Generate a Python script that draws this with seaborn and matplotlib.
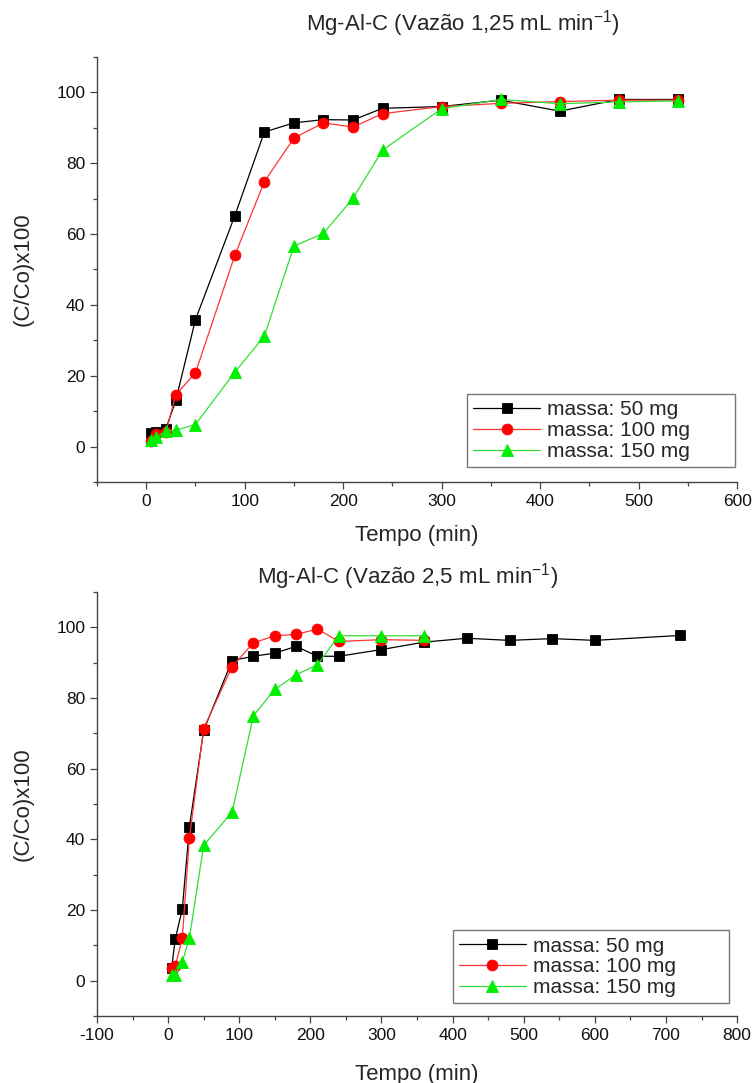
import numpy as np
import pandas as pd
import matplotlib
matplotlib.use("Agg")
import matplotlib.pyplot as plt
from matplotlib.ticker import MultipleLocator
import seaborn as sns

# ---------------- data ----------------
labels = ["massa: 50 mg", "massa: 100 mg", "massa: 150 mg"]

# Top panel: flow 1,25 mL/min
t_top = [5, 10, 20, 30, 50, 90, 120, 150, 180, 210, 240, 300, 360, 420, 480, 540]
top_50 = [3.8, 4.2, 5.0, 13.0, 35.8, 65.2, 88.8, 91.4, 92.3, 92.2, 95.5, 96.0, 97.8, 94.7, 98.0, 98.0]
top_100 = [1.6, 3.5, 4.0, 14.6, 20.8, 54.0, 74.8, 87.1, 91.4, 90.2, 94.0, 96.0, 96.9, 97.4, 97.8, 97.8]
top_150 = [1.8, 2.6, 4.4, 4.6, 6.2, 21.0, 31.2, 56.6, 60.2, 70.1, 83.7, 95.4, 98.0, 96.8, 97.3, 97.6]

# Bottom panel: flow 2,5 mL/min
t_bot_50 = [5, 10, 20, 30, 50, 90, 120, 150, 180, 210, 240, 300, 360, 420, 480, 540, 600, 720]
bot_50 = [3.6, 11.7, 20.3, 43.6, 70.8, 90.6, 91.8, 92.7, 94.6, 91.8, 91.8, 93.7, 95.8, 96.9, 96.3, 96.8, 96.3, 97.7]
t_bot = [5, 10, 20, 30, 50, 90, 120, 150, 180, 210, 240, 300, 360]
bot_100 = [3.6, 4.0, 12.0, 40.4, 71.3, 88.9, 95.6, 97.6, 98.0, 99.5, 96.0, 96.5, 96.3]
bot_150 = [1.5, 1.7, 5.3, 12.1, 38.3, 47.7, 75.0, 82.4, 86.6, 89.4, 97.6, 97.6, 97.6]

titles = ["Mg-Al-C (Vazão 1,25 mL min$^{-1}$)", "Mg-Al-C (Vazão 2,5 mL min$^{-1}$)"]
xlabel = "Tempo (min)"
ylabel = "(C/Co)x100"

# ---------------- style ----------------
sns.set_style("ticks")
plt.rcParams["font.family"] = ["Liberation Sans", "DejaVu Sans"]
plt.rcParams["mathtext.default"] = "regular"
plt.rcParams["axes.unicode_minus"] = False

colors = ["#000000", "#ff0000", "#00ee00"]
line_colors = ["#000000", "#ff3333", "#33dd33"]
markers = ["s", "o", "^"]
msizes = [7, 7.8, 8.6]

fig = plt.figure(figsize=(7.54, 10.83), dpi=100)
ax1 = fig.add_axes([0.1286, 0.555, 0.849, 0.3924])
ax2 = fig.add_axes([0.1286, 0.0619, 0.849, 0.3915])

panels = [
    (ax1, [(t_top, top_50), (t_top, top_100), (t_top, top_150)], (-50, 600), (0.578, 0.035, 0.419, 0.207), 12),
    (ax2, [(t_bot_50, bot_50), (t_bot, bot_100), (t_bot, bot_150)], (-100, 800), (0.556, 0.03, 0.432, 0.208), 15),
]

for ax, series, xlim, legbox, xpad in panels:
    for i, (tx, ty) in enumerate(series):
        df = pd.DataFrame({"t": tx, "v": ty})
        sns.lineplot(data=df, x="t", y="v", ax=ax, color=line_colors[i], linewidth=0.9,
                     marker=markers[i], markersize=msizes[i], markerfacecolor=colors[i],
                     markeredgecolor=colors[i], markeredgewidth=0.6, label=labels[i],
                     sort=False, estimator=None)
    ax.set_xlim(*xlim)
    ax.set_ylim(-10, 110)
    ax.xaxis.set_major_locator(MultipleLocator(100))
    ax.xaxis.set_minor_locator(MultipleLocator(50))
    ax.yaxis.set_major_locator(MultipleLocator(20))
    ax.yaxis.set_minor_locator(MultipleLocator(10))
    ax.tick_params(which="both", direction="out", colors="#444444", labelcolor="#111111",
                   labelsize=12.5)
    ax.tick_params(which="major", length=5, width=0.9)
    ax.tick_params(which="minor", length=3, width=0.9)
    for s in ["top", "right"]:
        ax.spines[s].set_visible(False)
    for s in ["left", "bottom"]:
        ax.spines[s].set_color("#444444")
        ax.spines[s].set_linewidth(1.0)
    ax.set_xlabel(xlabel, fontsize=16, labelpad=xpad)
    ax.set_ylabel(ylabel, fontsize=16, labelpad=16)
    leg = ax.legend(loc="lower left", bbox_to_anchor=legbox, mode="expand",
                    fontsize=15, frameon=True, fancybox=False, handlelength=3.2,
                    borderpad=0.3, labelspacing=0.08, handletextpad=0.35, borderaxespad=0)
    leg.get_frame().set_edgecolor("#555555")
    leg.get_frame().set_linewidth(1.0)
    ax.set_facecolor("white")

fig.text(0.6135, 0.978, titles[0], ha="center", va="center", fontsize=16)
fig.text(0.541, 0.468, titles[1], ha="center", va="center", fontsize=16)

fig.savefig("out.png", dpi=100, facecolor="white")
